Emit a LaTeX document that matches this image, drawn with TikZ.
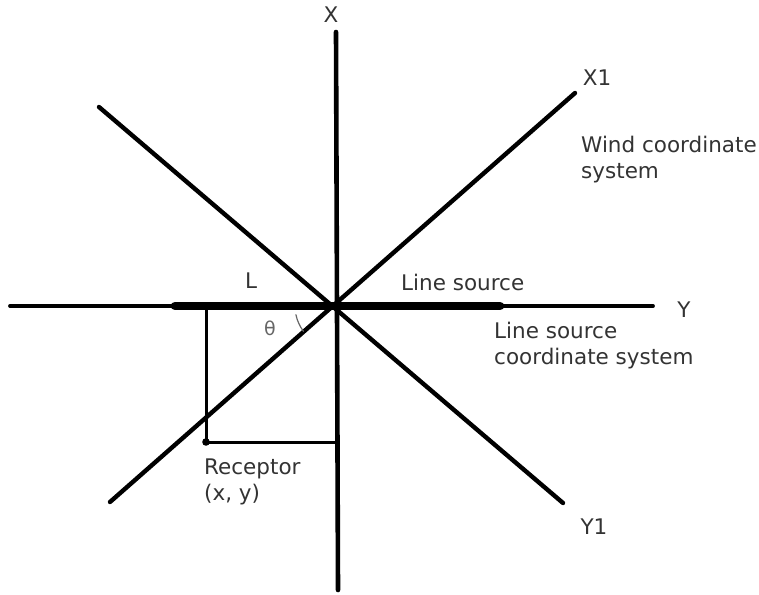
\documentclass[tikz,border=0pt]{standalone}
\usepackage{fontspec}
\setmainfont{DejaVu Sans}
\usetikzlibrary{calc}

\begin{document}
\begin{tikzpicture}[x=1pt, y=-1pt, line cap=round,
  lbl/.style={text=black!80, inner sep=0pt, font=\fontsize{21.5}{26}\selectfont}]
  \useasboundingbox (0,0) rectangle (759,594);
  \coordinate (O) at (337,306);
  \coordinate (Xt) at (336,32);
  \coordinate (Xb) at (338,590);
  \coordinate (Yl) at (10,306);
  \coordinate (Yr) at (653,306);
  \coordinate (X1a) at (575,93);
  \coordinate (X1b) at (110,502);
  \coordinate (Y1a) at (99,107);
  \coordinate (Y1b) at (563,503);
  \coordinate (Ls) at (175,306);
  \coordinate (Le) at (500,306);
  \coordinate (R) at (206,442);
  \coordinate (Rt) at (206,306);
  \coordinate (Rx) at (337,442);

  \draw[line width=4.6pt] (Xt)--(Xb);
  \draw[line width=3.8pt] (Yl)--(Yr);
  \draw[line width=4.4pt] (X1b)--(X1a);
  \draw[line width=4.4pt] (Y1a)--(Y1b);
  \draw[line width=8.5pt] (Ls)--(Le);
  \draw[line width=3pt, line cap=butt] (Rt)--(R)--(Rx);
  \fill (R) circle (3.8pt);
  \draw[black!60, line width=1.2pt] ($(O)+(168:42)$) arc (168:143:42);

  \node[lbl] (lX) at (331,15) {X};
  \node[lbl] (lX1) at (597,78) {X1};
  \node[lbl, anchor=base west, align=left] (lWind) at (581,178) {Wind coordinate\\system};
  \node[lbl, anchor=base west] (lL) at (245,288) {L};
  \node[lbl, anchor=base west] (lSrc) at (401,290) {Line source};
  \node[lbl] (lY) at (684,310) {Y};
  \node[lbl, anchor=base west, align=left] (lSys) at (494,364) {Line source\\coordinate system};
  \node[lbl] (lY1) at (594,527) {Y1};
  \node[lbl, anchor=base west, align=left] (lRec) at (204,500) {Receptor\\(x, y)};
  \node[lbl, font=\fontsize{19}{22}\selectfont, text=black!60] (lTh) at (270,328) {θ};
\end{tikzpicture}
\end{document}
